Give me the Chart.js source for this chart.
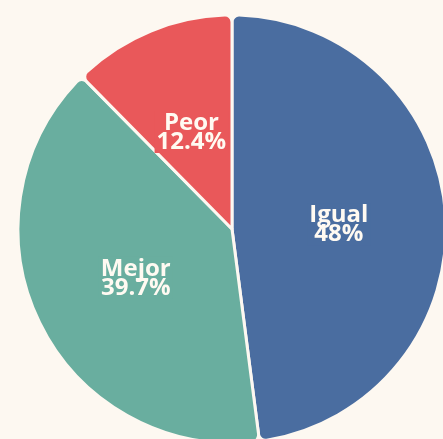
<!DOCTYPE html>
<html>
<head>
<meta charset="utf-8">
<script src="https://cdn.jsdelivr.net/npm/chart.js@4/dist/chart.umd.min.js"></script>
<style>
  html, body { margin: 0; padding: 0; background: #fdf8f1; overflow: hidden; width: 443px; height: 439px; }
  #wrap { position: absolute; left: 0; top: 0; }
</style>
</head>
<body>
<div id="wrap"><canvas id="pie" width="464" height="458"></canvas></div>
<script>
// datos
const categorias = ["Igual", "Mejor", "Peor"];
const valores = [48, 39.7, 12.4];
const colores = ["#4a6da0", "#69ae9f", "#e9585a"];

// etiquetas dentro de cada porcion (nombre + porcentaje)
const etiquetas = {
  id: 'etiquetas',
  afterDatasetsDraw(chart) {
    const ctx = chart.ctx;
    const meta = chart.getDatasetMeta(0);
    ctx.save();
    ctx.font = 'bold 24px "Open Sans", sans-serif';
    ctx.textAlign = 'center';
    ctx.textBaseline = 'middle';
    meta.data.forEach(function(arc, i) {
      const p = arc.getCenterPoint();
      const y = p.y + 2;
      const l1 = categorias[i];
      const l2 = valores[i] + '%';
      const w = Math.max(ctx.measureText(l1).width, ctx.measureText(l2).width);
      ctx.fillStyle = colores[i];
      ctx.fillRect(p.x - w / 2 - 2, y - 21, w + 4, 42);
      ctx.fillStyle = '#fffaf2';
      ctx.fillText(l1, p.x, y - 9);
      ctx.fillText(l2, p.x, y + 10);
    });
    ctx.restore();
  }
};

const pieChart = new Chart(document.getElementById("pie"), {
  type: 'pie',
  data: {
    labels: categorias,
    datasets: [{
      data: valores,
      backgroundColor: colores,
      borderColor: '#fdf8f1',
      borderWidth: 3,
      borderRadius: 7
    }]
  },
  options: {
    responsive: false,
    animation: false,
    radius: 214,
    layout: { padding: 0 },
    plugins: {
      legend: { display: false },
      tooltip: { enabled: false }
    }
  },
  plugins: [etiquetas]
});
</script>
</body>
</html>
